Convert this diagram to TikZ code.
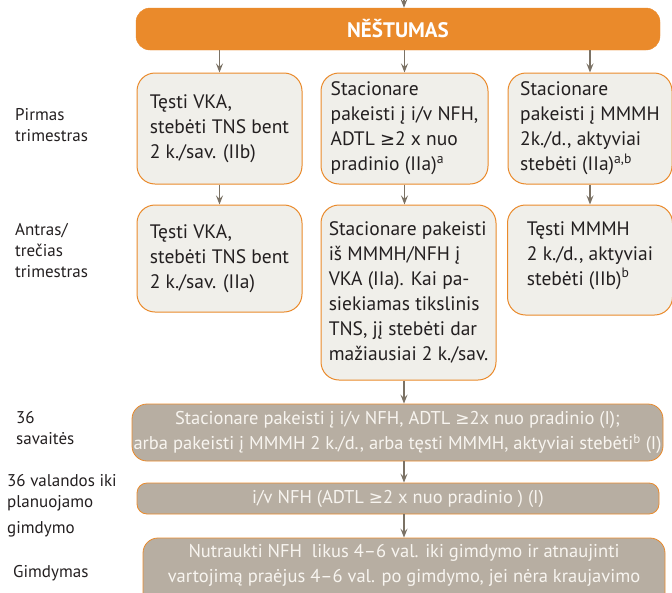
\documentclass[tikz,border=0pt]{standalone}
\usepackage{fontspec}
\setmainfont{PT Sans}
\newfontfamily\symf[Scale=0.92]{DejaVu Sans}
\usepackage{xcolor}
\usetikzlibrary{arrows.meta}

\definecolor{nsorange}{HTML}{EA8A2B}
\definecolor{nsbox}{HTML}{F0EFEA}
\definecolor{nsgray}{HTML}{B7AEA2}
\definecolor{nsarrow}{HTML}{7B7265}
\definecolor{nstext}{HTML}{231F20}
\definecolor{nslight}{HTML}{F8F5F0}
\newcommand{\nsgeq}{{\symf ≥}}

\begin{document}
\begin{tikzpicture}[x=1pt,y=-1pt,>={Stealth[length=9pt,width=7pt,inset=3.5pt]},
  arr/.style={->,draw=nsarrow,line width=1.3pt},
  stage/.style={anchor=west,align=left,inner sep=0pt,text=nstext,font=\fontsize{17}{21}\selectfont},
  tbox/.style={draw=nsorange,line width=1pt,fill=nsbox,rounded corners=18pt,align=left,
    inner sep=2pt,text=nstext,font=\fontsize{19.5}{25}\selectfont},
  gbox/.style={draw=nsorange,line width=0.8pt,fill=nsgray,rounded corners=15pt,align=center,
    inner sep=0pt,text=nslight,font=\fontsize{18.5}{25}\selectfont}]
\useasboundingbox (0,0) rectangle (672,592);

\coordinate (start) at (404,0);
\node[draw=nsorange,fill=nsorange,rounded corners=14pt,minimum width=524,minimum height=42,
  text=white,font=\fontsize{21}{24}\selectfont\bfseries] (preg) at (398,29) {NĚŠTUMAS};

\node[stage] (lab1) at (15,125) {Pirmas\\trimestras};
\node[stage] (lab2) at (15,251) {Antras/\\trečias\\trimestras};
\node[stage] (lab3) at (16,428) {36\\savaitės};
\node[stage] (lab4) at (7,506) {36 valandos iki\\planuojamo\\[5pt]gimdymo};
\node[stage] (lab5) at (13,573) {Gimdymas};

\node[tbox,minimum width=165,minimum height=111] (r1a) at (219.5,128.5)
  {Tęsti VKA,\\stebėti TNS bent\\2 k./sav. (IIb)};
\node[tbox,minimum width=167,minimum height=111] (r1b) at (404.5,128.5)
  {Stacionare\\pakeisti į i/v NFH,\\ADTL \nsgeq2 x nuo\\pradinio (IIa)\textsuperscript{a}};
\node[tbox,minimum width=164,minimum height=111] (r1c) at (590,128.5)
  {Stacionare\\pakeisti į MMMH\\2k./d., aktyviai\\stebėti (IIa)\textsuperscript{a,b}};

\node[tbox,minimum width=165,minimum height=107] (r2a) at (219.5,258.5)
  {Tęsti VKA,\\stebėti TNS bent\\2 k./sav. (IIa)};
\node[tbox,minimum width=175,minimum height=175] (r2b) at (408.5,292.5)
  {Stacionare pakeisti\\iš MMMH/NFH į\\VKA (IIa). Kai pa-\\siekiamas tikslinis\\TNS, jį stebėti dar\\mažiausiai 2 k./sav.};
\node[tbox,minimum width=165,minimum height=110] (r2c) at (590,260)
  {Tęsti MMMH\\2 k./d., aktyviai\\stebėti (IIb)\textsuperscript{b}\\[-12pt]\mbox{}};

\node[gbox,minimum width=531,minimum height=57] (g1) at (397.5,432.5)
  {Stacionare pakeisti į i/v NFH, ADTL \nsgeq2x nuo pradinio (I);\\arba pakeisti į MMMH 2 k./d., arba tęsti MMMH, aktyviai stebėti\textsuperscript{b} (I)};
\node[gbox,minimum width=522,minimum height=31,rounded corners=10pt] (g2) at (398,498.5)
  {i/v NFH (ADTL \nsgeq2 x nuo pradinio ) (I)};
\node[gbox,minimum width=522,minimum height=70] (g3) at (404,573) {};
\node[gbox,draw=none,fill=none] (g3txt) at (404,565.5)
  {Nutraukti NFH\ \ likus 4–6 val. iki gimdymo ir atnaujinti\\vartojimą praėjus 4–6 val. po gimdymo, jei nėra kraujavimo};

\draw[arr] (start) -- (preg.north -| start);
\draw[arr] (preg.south -| r1a) -- (r1a);
\draw[arr] (preg.south -| r1b) -- (r1b);
\draw[arr] (preg.south -| r1c) -- (r1c);
\draw[arr] (r1a) -- (r2a);
\draw[arr] (r1b.south) -- (r1b.south |- r2b.north);
\draw[arr] (r1c) -- (r2c);
\draw[arr] (r2b.south -| start) -- (g1.north -| start);
\draw[arr] (g1.south -| start) -- (g2.north -| start);
\draw[arr] (g2.south -| start) -- (g3.north -| start);
\end{tikzpicture}
\end{document}
